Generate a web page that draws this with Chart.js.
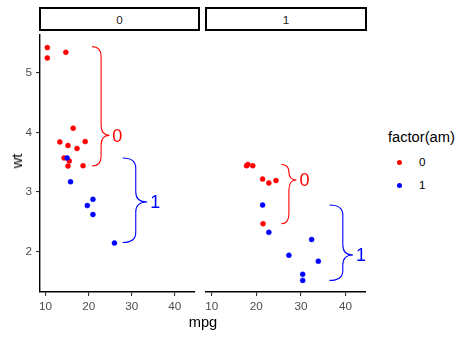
<!DOCTYPE html>
<html>
<head>
<meta charset="utf-8">
<script src="https://cdn.jsdelivr.net/npm/chart.js@4/dist/chart.umd.min.js"></script>
<style>
  html, body { margin: 0; padding: 0; background: #fff; }
  body { width: 471px; height: 337px; position: relative; overflow: hidden; font-family: "Liberation Sans", Arial, sans-serif; }
  canvas { position: absolute; }
  .strip { position: absolute; top: 7px; height: 24px; box-sizing: border-box; border: 2px solid #000; background: #fff;
           font-size: 11.7px; color: #1a1a1a; display: flex; align-items: center; justify-content: center; }
  .txt { position: absolute; white-space: nowrap; }
  .dot { position: absolute; width: 5px; height: 5px; border-radius: 50%; }
</style>
</head>
<body>
<div class="strip" style="left:39px;width:161px;">0</div>
<div class="strip" style="left:205px;width:162px;">1</div>
<canvas id="c0" width="199" height="290" style="left:0px;top:30px;"></canvas>
<canvas id="c1" width="180" height="290" style="left:200px;top:30px;"></canvas>
<div class="txt" style="left:203px;top:314px;transform:translateX(-50%);font-size:14.67px;color:#000;">mpg</div>
<div class="txt" style="left:17px;top:161px;transform:translate(-50%,-50%) rotate(-90deg);font-size:14.67px;color:#000;">wt</div>
<div class="txt" style="left:388px;top:129px;font-size:14.67px;color:#000;">factor(am)</div>
<div class="dot" style="left:396.5px;top:159.5px;background:#ff0000;"></div>
<div class="txt" style="left:419px;top:155px;font-size:11.7px;color:#000;">0</div>
<div class="dot" style="left:396.5px;top:182.5px;background:#0000ff;"></div>
<div class="txt" style="left:419px;top:178px;font-size:11.7px;color:#000;">1</div>
<script>
// ---- data (mtcars: mpg vs wt, facet vs, colour am) ----
const panels = ['0', '1'];
const amLevels = ['0', '1'];
const amColors = ['#ff0000', '#0000ff'];

const mpg_vs0_am0 = [18.7, 14.3, 16.4, 17.3, 15.2, 10.4, 10.4, 14.7, 15.5, 15.2, 13.3, 19.2];
const wt_vs0_am0  = [3.44, 3.57, 4.07, 3.73, 3.78, 5.25, 5.424, 5.345, 3.52, 3.435, 3.84, 3.845];
const mpg_vs0_am1 = [21.0, 21.0, 26.0, 15.8, 19.7, 15.0];
const wt_vs0_am1  = [2.62, 2.875, 2.14, 3.17, 2.77, 3.57];
const mpg_vs1_am0 = [21.4, 18.1, 24.4, 22.8, 19.2, 17.8, 21.5];
const wt_vs1_am0  = [3.215, 3.46, 3.19, 3.15, 3.44, 3.44, 2.465];
const mpg_vs1_am1 = [22.8, 32.4, 30.4, 33.9, 27.3, 30.4, 21.4];
const wt_vs1_am1  = [2.32, 2.2, 1.615, 1.835, 1.935, 1.513, 2.78];

const xTicks = [10, 20, 30, 40];
const yTicks = [2, 3, 4, 5];

// braces, per panel [am0, am1], in data units
const braceStart  = [[20.8, 27.9], [25.6, 36.4]];
const braceBend   = [[22.9, 30.95], [27.3, 39.4]];
const braceTip    = [[24.8, 33.6], [29.0, 41.7]];
const braceTop    = [[5.44, 3.57], [3.46, 2.78]];
const braceBottom = [[3.435, 2.15], [2.465, 1.513]];
const braceMid    = [[3.95, 2.83], [3.20, 1.94]];

const panelX = [[mpg_vs0_am0, mpg_vs0_am1], [mpg_vs1_am0, mpg_vs1_am1]];
const panelY = [[wt_vs0_am0, wt_vs0_am1], [wt_vs1_am0, wt_vs1_am1]];

const FONT = '"Liberation Sans", Arial, sans-serif';

function bracePlugin(p) {
  return {
    id: 'braces' + p,
    afterDatasetsDraw(chart) {
      const ctx = chart.ctx, xs = chart.scales.x, ys = chart.scales.y;
      for (let g = 0; g < amLevels.length; g++) {
        const x0 = xs.getPixelForValue(braceStart[p][g]);
        const xb = xs.getPixelForValue(braceBend[p][g]);
        const xt = xs.getPixelForValue(braceTip[p][g]);
        const yT = ys.getPixelForValue(braceTop[p][g]);
        const yB = ys.getPixelForValue(braceBottom[p][g]);
        const yM = ys.getPixelForValue(braceMid[p][g]);
        const cU = Math.min(10, (yM - yT) / 2);
        const cL = Math.min(10, (yB - yM) / 2);
        ctx.save();
        ctx.strokeStyle = amColors[g];
        ctx.lineWidth = 1.1;
        ctx.beginPath();
        ctx.moveTo(x0, yT);
        ctx.quadraticCurveTo(xb, yT, xb, yT + cU);
        ctx.lineTo(xb, yM - cU);
        ctx.quadraticCurveTo(xb, yM, xt, yM);
        ctx.quadraticCurveTo(xb, yM, xb, yM + cL);
        ctx.lineTo(xb, yB - cL);
        ctx.quadraticCurveTo(xb, yB, x0, yB);
        ctx.stroke();
        ctx.fillStyle = amColors[g];
        ctx.font = '18px ' + FONT;
        ctx.textAlign = 'left';
        ctx.textBaseline = 'middle';
        ctx.fillText(amLevels[g], xt + 3, yM + 1.5);
        ctx.restore();
      }
    }
  };
}

function makeChart(id, p) {
  const datasets = amLevels.map((lv, g) => ({
    label: lv,
    data: panelX[p][g].map((v, i) => ({ x: v, y: panelY[p][g][i] })),
    backgroundColor: amColors[g],
    borderColor: amColors[g],
    borderWidth: 0.5,
    pointRadius: 2.5,
    clip: false,
    order: amLevels.length - g
  }));
  const isFirst = p === 0;
  return new Chart(document.getElementById(id), {
    type: 'scatter',
    data: { datasets },
    options: {
      responsive: false,
      maintainAspectRatio: false,
      animation: false,
      devicePixelRatio: 1,
      layout: { padding: isFirst ? { left: 0, right: 1, top: 0, bottom: 0 } : { left: 6, right: 14, top: 0, bottom: 0 } },
      plugins: { legend: { display: false }, tooltip: { enabled: false } },
      events: [],
      scales: {
        x: {
          type: 'linear', min: 8.7, max: 44.6,
          afterBuildTicks: s => { s.ticks = xTicks.map(v => ({ value: v })); },
          afterFit: s => { s.height = 28; s.paddingLeft = 0; s.paddingRight = 0; s.paddingTop = 0; s.paddingBottom = 0; },
          grid: { drawOnChartArea: false, drawTicks: true, tickLength: 4, color: '#333333', lineWidth: 1.1 },
          border: { display: true, color: '#000000', width: 1.4 },
          ticks: { color: '#4d4d4d', font: { family: FONT, size: 11.7 }, padding: 3.5, maxRotation: 0 }
        },
        y: {
          type: 'linear', min: 1.318, max: 5.644,
          display: isFirst,
          afterBuildTicks: s => { s.ticks = yTicks.map(v => ({ value: v })); },
          afterFit: s => { s.width = isFirst ? 40 : 0; s.paddingLeft = 0; s.paddingRight = 0; s.paddingTop = 0; s.paddingBottom = 0; },
          grid: { drawOnChartArea: false, drawTicks: true, tickLength: 4, color: '#333333', lineWidth: 1.1 },
          border: { display: true, color: '#000000', width: 1.4 },
          ticks: { color: '#4d4d4d', font: { family: FONT, size: 11.7 }, padding: 4 }
        }
      }
    },
    plugins: [bracePlugin(p)]
  });
}

makeChart('c0', 0);
makeChart('c1', 1);
</script>
</body>
</html>
